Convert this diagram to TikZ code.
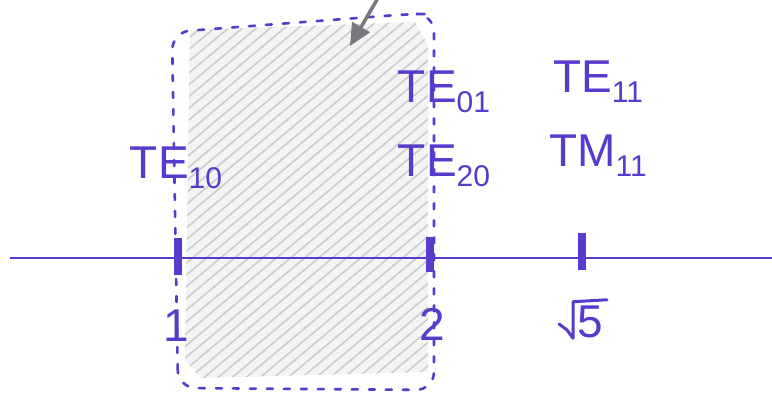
\documentclass[tikz,border=0pt]{standalone}
\usepackage{fontspec}
\setmainfont{Liberation Sans}
\usetikzlibrary{patterns.meta,arrows.meta}
\definecolor{ink}{RGB}{88,58,205}
\definecolor{pencil}{RGB}{120,120,125}
\newcommand{\lowsub}[1]{\raisebox{-0.22em}{\fontsize{30}{30}\selectfont #1}}
\tikzset{
  lbl/.style={text=ink,font=\fontsize{46}{46}\selectfont,inner sep=0pt},
  axis/.style={draw=ink,line width=2.8pt},
  tick/.style={draw=ink,line width=8pt},
  radical/.style={draw=ink,line width=3pt,line join=round,line cap=round},
  region/.style={draw=ink,line width=2.6pt,dash pattern=on 6pt off 11pt,line cap=round,rounded corners=18pt},
  hatch/.style={pattern={Lines[angle=40,distance=9pt,line width=1.6pt]},pattern color=gray!40},
  pointer/.style={draw=pencil,line width=3.5pt,-{Triangle[length=22pt,width=20pt]}}
}
\begin{document}
\begin{tikzpicture}[x=1pt,y=-1pt]
\useasboundingbox (0,0) rectangle (772,396);
% shaded region
\fill[gray!9] (190,30) -- (415,22) -- (428,45) -- (428,372) -- (200,378) -- (185,360) -- cycle;
\path[hatch] (190,30) -- (415,22) -- (428,45) -- (428,372) -- (200,378) -- (185,360) -- cycle;
% dashed boundary
\draw[region] (178,388) -- (172,32) -- (410,14) -- (434,14) -- (434,390) -- cycle;
% axis
\coordinate (L) at (10,258);
\coordinate (R) at (772,258);
\draw[axis] (L) -- (R);
\coordinate (t1a) at (178,238); \coordinate (t1b) at (178,275);
\coordinate (t2a) at (430,237); \coordinate (t2b) at (430,272);
\coordinate (t3a) at (582,233); \coordinate (t3b) at (582,270);
\draw[tick] (t1a) -- (t1b);
\draw[tick] (t2a) -- (t2b);
\draw[tick] (t3a) -- (t3b);
% labels
\node[lbl] (te10) at (176,168) {TE\lowsub{10}};
\node[lbl] (te01) at (444,92) {TE\lowsub{01}};
\node[lbl] (te20) at (444,166) {TE\lowsub{20}};
\node[lbl] (te11) at (598,82) {TE\lowsub{11}};
\node[lbl] (tm11) at (598,156) {TM\lowsub{11}};
\node[lbl] (one) at (176,326) {1};
\node[lbl] (two) at (432,324) {2};
\node[lbl] (five) at (590,322) {5};
\draw[radical] ([xshift=-18pt,yshift=-2pt]five.west) -- ([xshift=-10pt,yshift=-8pt]five.west)
  -- ([xshift=-4pt]five.south west) -- ([xshift=-4pt,yshift=4pt]five.north west) -- ([xshift=4pt,yshift=6pt]five.north east);
% pointer
\coordinate (pa) at (378,-2);
\coordinate (pb) at (350,46);
\draw[pointer] (pa) -- (pb);
\end{tikzpicture}
\end{document}
